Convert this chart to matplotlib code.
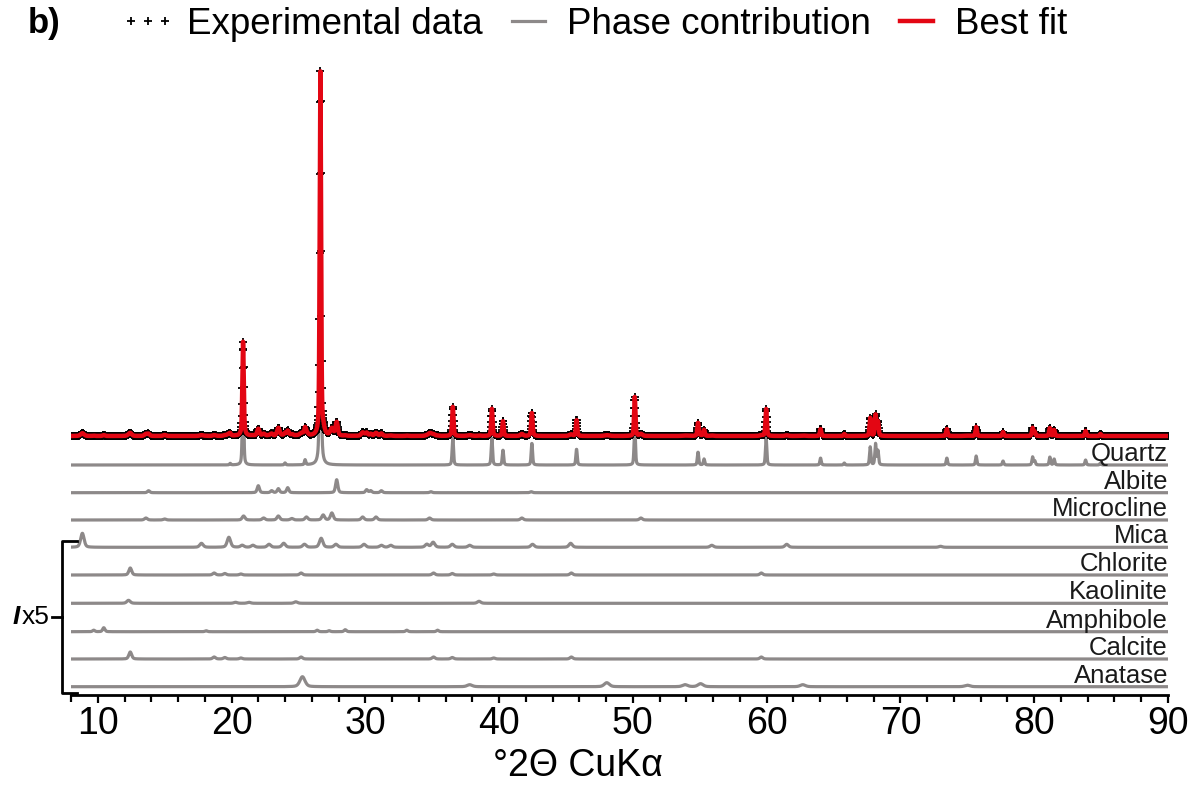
import numpy as np
import matplotlib.pyplot as plt
from matplotlib.lines import Line2D
from matplotlib.ticker import MultipleLocator

plt.rcParams['font.family'] = ['Liberation Sans', 'DejaVu Sans']

# peak positions (deg 2theta) and heights (relative intensity, as drawn in each row)
quartz_pos = [19.9, 20.86, 24.0, 25.5, 26.64, 36.54, 39.46, 40.29, 42.45, 45.79, 50.14, 54.87, 55.32,
              59.96, 64.03, 65.8, 67.74, 68.14, 68.32, 73.47, 75.66, 77.67, 79.88, 80.04, 81.17, 81.49,
              83.84, 84.95]
quartz_int = [1.5, 90, 2, 5, 362, 28, 27, 15, 22, 16, 39, 13, 6,
              27, 7, 2, 18, 21, 14, 7, 9, 4, 8, 4, 8, 6,
              5, 2]

albite_pos = [13.8, 22.0, 23.0, 23.5, 24.2, 27.86, 30.1, 30.4, 31.2, 34.9, 42.4]
albite_int = [2, 7, 2, 4, 5, 13, 3, 2, 2, 1, 1]

microcline_pos = [13.6, 15.0, 20.9, 22.4, 23.5, 24.5, 25.6, 26.85, 27.5, 29.8, 30.8, 34.8, 41.7, 50.6]
microcline_int = [2, 1, 4, 2, 4, 1.5, 3, 5, 7, 3, 3, 2, 2, 2]

mica_pos = [8.85, 17.75, 19.8, 20.8, 21.6, 22.8, 23.9, 25.45, 26.7, 27.8, 29.9, 31.2, 31.9, 34.6,
            35.07, 36.5, 37.8, 42.5, 45.35, 55.9, 61.5, 73.0]
mica_int = [14, 4, 10, 2, 2, 3, 4, 3, 9, 3, 3, 2, 2, 3,
            5, 3, 2, 3, 4, 2, 3, 1]

chlorite_pos = [12.43, 18.7, 19.5, 20.7, 25.2, 35.1, 36.5, 39.6, 45.4, 59.6]
chlorite_int = [7, 2, 1.5, 1, 2, 2, 1.5, 1, 2, 2]

kaolinite_pos = [12.3, 20.3, 21.3, 24.8, 38.5]
kaolinite_int = [3, 1, 1, 1.5, 2]

amphibole_pos = [9.7, 10.45, 18.1, 26.4, 27.3, 28.5, 33.1, 35.4]
amphibole_int = [1.5, 4, 1, 1.5, 1, 2, 1.5, 1.5]

calcite_pos = [12.43, 18.7, 19.5, 20.7, 25.2, 35.1, 36.5, 39.6, 45.4, 59.6]
calcite_int = [7, 2, 1.5, 1, 2, 2, 1.5, 1, 2, 2]

anatase_pos = [25.3, 37.8, 48.05, 53.9, 55.06, 62.7, 75.0]
anatase_int = [10, 2, 4, 2, 3, 2, 1.5]

phase_names = ['Quartz', 'Albite', 'Microcline', 'Mica', 'Chlorite', 'Kaolinite',
               'Amphibole', 'Calcite', 'Anatase']
phase_scale = [1, 1, 1, 5, 5, 5, 5, 5, 5]       # display magnification
phase_fwhm = [0.12, 0.2, 0.25, 0.3, 0.25, 0.3, 0.2, 0.25, 0.45]
phase_offset = [230, 202.3, 175, 147.7, 120, 91.7, 63.3, 36, 8.3]
exp_offset = 259
background = 0

phase_peaks = [(quartz_pos, quartz_int), (albite_pos, albite_int), (microcline_pos, microcline_int),
               (mica_pos, mica_int), (chlorite_pos, chlorite_int), (kaolinite_pos, kaolinite_int),
               (amphibole_pos, amphibole_int), (calcite_pos, calcite_int), (anatase_pos, anatase_int)]

two_theta = np.arange(8, 90.001, 0.02)


def profile(pos, inten, fwhm):
    y = np.zeros_like(two_theta)
    for p, h in zip(pos, inten):
        d = (two_theta - p) / fwhm
        gauss = np.exp(-4 * np.log(2) * d ** 2)
        lor = 1 / (1 + 4 * d ** 2)
        y += h * (0.6 * gauss + 0.4 * lor)
    return y


fig = plt.figure(figsize=(12, 7.91), dpi=100)
ax = fig.add_axes([71 / 1200, 96 / 791, 1097 / 1200, 633 / 791])

gray = '#8d8989'
red = '#e30613'
fit = np.full_like(two_theta, background, dtype=float)
for name, (pos, inten), sc, w, off in zip(phase_names, phase_peaks, phase_scale, phase_fwhm, phase_offset):
    y = profile(pos, inten, w)
    fit += y / sc
    ax.plot(two_theta, y + off, color=gray, lw=2.3, zorder=2, solid_joinstyle='round')
    ax.text(90, off + 4, name, ha='right', va='baseline', fontsize=18.5, color='#1a1a1a')

ax.plot(two_theta, fit + exp_offset, ls='none', marker='+', ms=5.5, mew=1.3, color='k', zorder=3)
ax.plot(two_theta, fit + exp_offset, color=red, lw=3.2, zorder=4)

ax.set_xlim(8, 90)
ax.set_ylim(0, 633)
for s in ['left', 'right', 'top']:
    ax.spines[s].set_visible(False)
ax.spines['bottom'].set_linewidth(2)
ax.set_yticks([])
ax.xaxis.set_major_locator(MultipleLocator(10))
ax.xaxis.set_minor_locator(MultipleLocator(2))
ax.tick_params(axis='x', which='major', length=6, width=1.6, labelsize=27, pad=2)
ax.tick_params(axis='x', which='minor', length=5, width=1.6)
ax.set_xlabel('°2Θ CuKα', fontsize=27, va='center')
ax.xaxis.set_label_coords(0.462, -0.112)

# x5 bracket for the minor phases
bx = 7.31
br = 8.45
ax.plot([br, bx, bx, br], [154, 154, 2, 2], color='k', lw=2, clip_on=False)
ax.plot([bx, bx - 0.7], [78, 78], color='k', lw=2, clip_on=False)
fig.text(22 / 1200, 1 - 617 / 791, 'x5', ha='left', va='center', fontsize=19)
fig.text(20 / 1200, 1 - 617 / 791, 'I', ha='right', va='center', fontsize=19,
         fontweight='bold', fontstyle='italic')

fig.text(28 / 1200, 1 - 24 / 791, 'b)', ha='left', va='center', fontsize=25, fontweight='bold')
handles = [Line2D([], [], ls='none', marker='+', ms=5.5, mew=1.3, color='k'),
           Line2D([], [], color=gray, lw=2.3),
           Line2D([], [], color=red, lw=3.2)]
fig.legend(handles, ['Experimental data', 'Phase contribution', 'Best fit'],
           loc='center', bbox_to_anchor=(594 / 1200, 1 - 24 / 791), ncol=3, frameon=False,
           fontsize=26.5, numpoints=3, handlelength=1.5, handletextpad=0.3, columnspacing=0.5)

fig.savefig('out.png', dpi=100)
